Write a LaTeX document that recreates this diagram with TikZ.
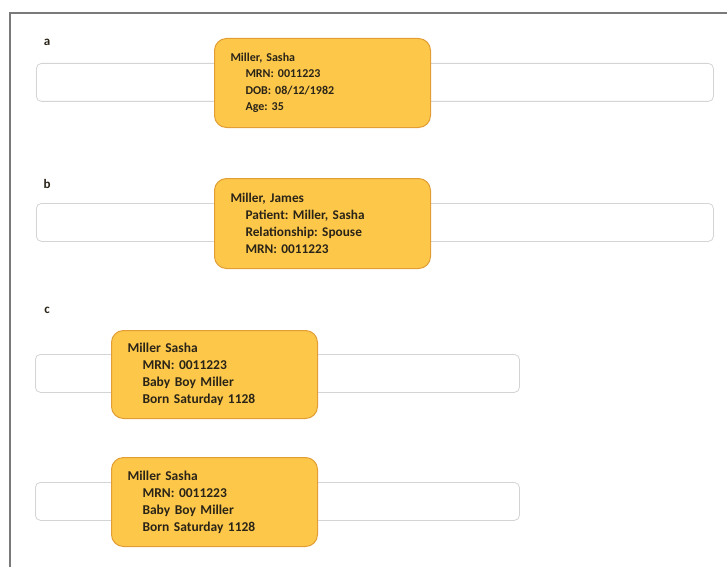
\documentclass[tikz,border=0pt]{standalone}
\usepackage{fontspec}
\setmainfont{Carlito}
\usetikzlibrary{positioning}
\frenchspacing
\definecolor{tagfill}{HTML}{FDC84A}
\definecolor{tagedge}{HTML}{E29E35}
\definecolor{bandedge}{HTML}{D4D4D4}
\definecolor{framegrey}{HTML}{7A7A7A}
\definecolor{inkdark}{HTML}{2A2418}
\newcommand\tagindent{\hspace*{15pt}}
\tikzset{
  band/.style={draw=bandedge, line width=0.8pt, fill=white, rounded corners=5pt, anchor=north west, inner sep=0pt},
  tag/.style={draw=tagedge, line width=1pt, fill=tagfill, rounded corners=12pt, anchor=north west, align=left, text=inkdark, inner xsep=16pt, inner ysep=0pt},
  panel/.style={font=\bfseries\fontsize{13}{15}\selectfont, text=inkdark}
}
\begin{document}
\begin{tikzpicture}[x=1pt,y=-1pt]
    \def\bandHeight{38}
    \def\tagWidth{216}
    \def\tagPad{16}
    \useasboundingbox (0,0) rectangle (727,567);
    % frame
    \draw[framegrey, line width=1.2pt] (10,567) -- (10,13) -- (727,13);

    % bands
    \foreach \name/\x/\y/\w in {bandA/36/63/677, bandB/36/203/677, bandC/35/354/484, bandD/35/482/484} {
        \node[band, minimum width=\w pt, minimum height=\bandHeight pt] (\name) at (\x,\y) {};
    }

    \node[panel] (labA) at (47,42) {a};
    \node[panel] (labB) at (47,184) {b};
    \node[panel] (labC) at (47,310) {c};

    % tags
    \node[tag, text width=\tagWidth pt-2*\tagPad pt, minimum height=89pt, font=\bfseries\fontsize{12}{16.5}\selectfont] (tagA) at (214,38)
        {Miller, Sasha\\\tagindent MRN: 0011223\\\tagindent DOB: 08/12/1982\\\tagindent Age: 35};
    \node[tag, text width=\tagWidth pt-2*\tagPad pt, minimum height=90pt, font=\bfseries\fontsize{13.3}{17}\selectfont] (tagB) at (214,178)
        {Miller, James\\\tagindent Patient: Miller, Sasha\\\tagindent Relationship: Spouse\\\tagindent MRN: 0011223};
    \node[tag, text width=206pt-2*\tagPad pt, minimum height=88pt, font=\bfseries\fontsize{13.5}{17}\selectfont] (tagC) at (111,330)
        {Miller Sasha\\\tagindent MRN: 0011223\\\tagindent Baby Boy Miller\\\tagindent Born Saturday 1128};
    \node[tag, text width=206pt-2*\tagPad pt, minimum height=89pt, font=\bfseries\fontsize{13.5}{17}\selectfont] (tagD) at (111,457)
        {Miller Sasha\\\tagindent MRN: 0011223\\\tagindent Baby Boy Miller\\\tagindent Born Saturday 1128};
\end{tikzpicture}
\end{document}
